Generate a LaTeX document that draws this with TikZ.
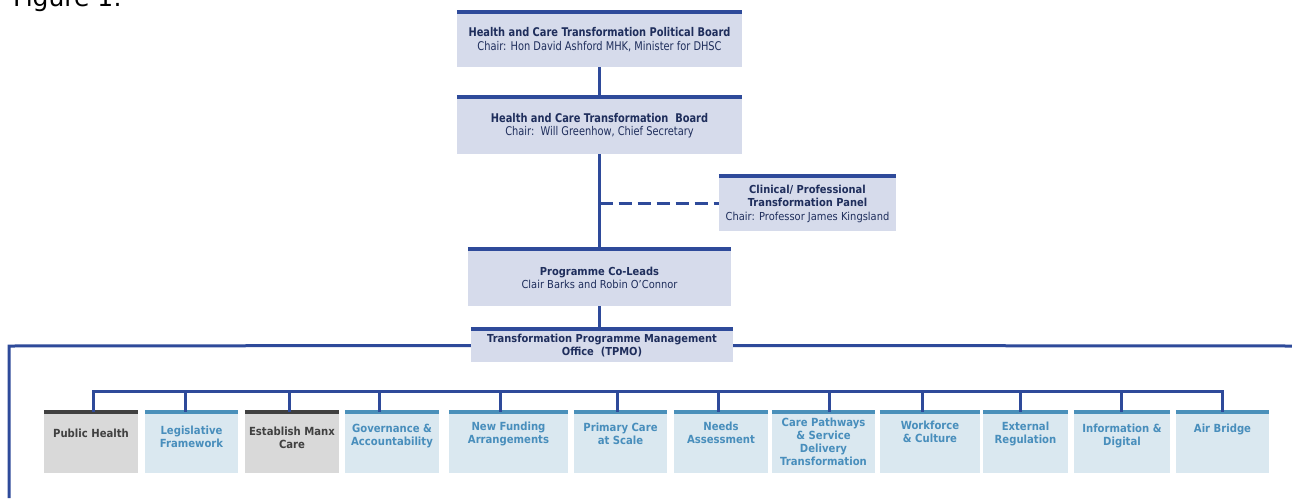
\documentclass[tikz,border=0pt]{standalone}
\usepackage{fontspec}
\setmainfont{DejaVu Sans}
\newfontfamily\widefont[FakeStretch=0.9]{DejaVu Sans}
\newfontfamily\narrowfont[FakeStretch=0.82]{DejaVu Sans}

\definecolor{hcnavy}{RGB}{46,74,154}
\definecolor{hcink}{RGB}{31,46,92}
\definecolor{hclav}{RGB}{214,219,235}
\definecolor{wsfill}{RGB}{218,232,240}
\definecolor{wsbar}{RGB}{74,144,186}
\definecolor{wsink}{RGB}{72,142,188}
\definecolor{phfill}{RGB}{217,217,217}
\definecolor{phbar}{RGB}{64,64,64}

\tikzset{
  board/.style={fill=hclav, inner sep=0pt, align=center, text=hcink},
  link/.style={draw=hcnavy, line width=3pt},
  topbar/.style={draw=hcnavy, line width=3.5pt},
  ws/.style={fill=wsfill, inner sep=0pt, minimum height=61pt},
  wsgrey/.style={fill=phfill, inner sep=0pt, minimum height=61pt},
  wstext/.style={text=wsink, align=center, inner sep=0pt, font=\widefont\bfseries\fontsize{11.2}{13}\selectfont},
  greytext/.style={wstext, text=phbar}
}

\begin{document}
\begin{tikzpicture}[x=1pt,y=1pt,yscale=-1]
\useasboundingbox (0,0) rectangle (1292,498);

% caption
\node[anchor=base west, inner sep=0pt, font=\fontsize{25}{30}\selectfont] (fig) at (13,6) {Figure 1:};

% boards
\node[board, minimum width=285pt, minimum height=55pt, font=\narrowfont\fontsize{12}{13.5}\selectfont] (pb) at (599.5,39.5)
  {\textbf{Health and Care Transformation Political Board}\\Chair: Hon David Ashford MHK, Minister for DHSC};
\node[board, minimum width=285pt, minimum height=57pt, font=\narrowfont\fontsize{12}{13.5}\selectfont] (hb) at (599.5,125.5)
  {\textbf{Health and Care Transformation\ \ Board}\\Chair:\ \ Will Greenhow, Chief Secretary};
\node[board, minimum width=177pt, minimum height=55pt, font=\widefont\fontsize{11}{13.5}\selectfont] (cp) at (807.5,203.5)
  {\textbf{Clinical/ Professional}\\\textbf{Transformation Panel}\\Chair: Professor James Kingsland};
\node[board, minimum width=263pt, minimum height=57pt, font=\widefont\fontsize{11}{13}\selectfont] (cl) at (599.5,277.5)
  {\textbf{Programme Co-Leads}\\Clair Barks and Robin O’Connor};
\node[board, minimum width=262pt, minimum height=33pt, font=\widefont\bfseries\fontsize{11}{13}\selectfont] (tp) at (602,345.5)
  {Transformation Programme Management\\Office\ \ (TPMO)};

% workstream boxes
\node[wsgrey, minimum width=94pt] (ph) at (91,442.5) {};
\node[ws, minimum width=93pt] (lf) at (191.5,442.5) {};
\node[wsgrey, minimum width=94pt] (em) at (292,442.5) {};
\node[ws, minimum width=94pt] (ga) at (392,442.5) {};
\node[ws, minimum width=119pt] (nf) at (508.5,442.5) {};
\node[ws, minimum width=93pt] (pc) at (620.5,442.5) {};
\node[ws, minimum width=94pt] (na) at (721,442.5) {};
\node[ws, minimum width=103pt] (cw) at (823.5,442.5) {};
\node[ws, minimum width=100pt] (wc) at (930,442.5) {};
\node[ws, minimum width=85pt] (er) at (1025.5,442.5) {};
\node[ws, minimum width=96pt] (id) at (1122,442.5) {};
\node[ws, minimum width=93pt] (ab) at (1222.5,442.5) {};

% workstream titles
\node[greytext] (ph-t) at (91,433) {Public Health};
\node[wstext] (lf-t) at (191.5,436.5) {Legislative\\Framework};
\node[greytext] (em-t) at (292,437.5) {Establish Manx\\Care};
\node[wstext] (ga-t) at (392,436.5) {Governance \&\\Accountability};
\node[wstext] (nf-t) at (508.5,433.5) {New Funding\\Arrangements};
\node[wstext] (pc-t) at (620.5,433.5) {Primary Care\\at Scale};
\node[wstext] (na-t) at (721,433) {Needs\\Assessment};
\node[wstext] (cw-t) at (823.5,442) {Care Pathways\\\& Service\\Delivery\\Transformation};
\node[wstext] (wc-t) at (930,431.5) {Workforce\\\& Culture};
\node[wstext] (er-t) at (1025.5,433.5) {External\\Regulation};
\node[wstext] (id-t) at (1122,435.5) {Information \&\\Digital};
\node[wstext] (ab-t) at (1222.5,429) {Air Bridge};

% top bars
\draw[topbar] (pb.north west) -- (pb.north east);
\draw[topbar] (hb.north west) -- (hb.north east);
\draw[topbar] (cp.north west) -- (cp.north east);
\draw[topbar] (cl.north west) -- (cl.north east);
\draw[topbar] (tp.north west) -- (tp.north east);
\draw[topbar, draw=phbar] (ph.north west) -- (ph.north east);
\draw[topbar, draw=wsbar] (lf.north west) -- (lf.north east);
\draw[topbar, draw=phbar] (em.north west) -- (em.north east);
\draw[topbar, draw=wsbar] (ga.north west) -- (ga.north east);
\draw[topbar, draw=wsbar] (nf.north west) -- (nf.north east);
\draw[topbar, draw=wsbar] (pc.north west) -- (pc.north east);
\draw[topbar, draw=wsbar] (na.north west) -- (na.north east);
\draw[topbar, draw=wsbar] (cw.north west) -- (cw.north east);
\draw[topbar, draw=wsbar] (wc.north west) -- (wc.north east);
\draw[topbar, draw=wsbar] (er.north west) -- (er.north east);
\draw[topbar, draw=wsbar] (id.north west) -- (id.north east);
\draw[topbar, draw=wsbar] (ab.north west) -- (ab.north east);

% reporting lines
\draw[link] (pb.south) -- (hb.north);
\draw[link] (hb.south) -- (cl.north);
\coordinate (dj) at (hb.south |- cp.west);
\draw[link, dash pattern=on 13pt off 6pt] (dj) -- (cp.west);
\draw[link] (cl.south) -- (cl.south |- tp.north);

% TPMO spine
\coordinate (lc) at (9,346);
\coordinate (le) at (9,498);
\coordinate (re) at (1292,346);
\draw[link] (tp.west) -- (lc) -- (le);
\draw[link] (tp.east) -- (re);

% workstream bus and drops
\coordinate (d1) at (93,391);
\coordinate (d2) at (185,391);
\coordinate (d3) at (289,391);
\coordinate (d4) at (379,391);
\coordinate (d5) at (500,391);
\coordinate (d6) at (617,391);
\coordinate (d7) at (718,391);
\coordinate (d8) at (829,391);
\coordinate (d9) at (922,391);
\coordinate (d10) at (1020,391);
\coordinate (d11) at (1121,391);
\coordinate (d12) at (1222,391);
\draw[link] (d1 |- ph.north) -- (d1) -- (d12) -- (d12 |- ab.north);
\draw[link] (d2) -- (d2 |- lf.north);
\draw[link] (d3) -- (d3 |- em.north);
\draw[link] (d4) -- (d4 |- ga.north);
\draw[link] (d5) -- (d5 |- nf.north);
\draw[link] (d6) -- (d6 |- pc.north);
\draw[link] (d7) -- (d7 |- na.north);
\draw[link] (d8) -- (d8 |- cw.north);
\draw[link] (d9) -- (d9 |- wc.north);
\draw[link] (d10) -- (d10 |- er.north);
\draw[link] (d11) -- (d11 |- id.north);

\end{tikzpicture}
\end{document}
